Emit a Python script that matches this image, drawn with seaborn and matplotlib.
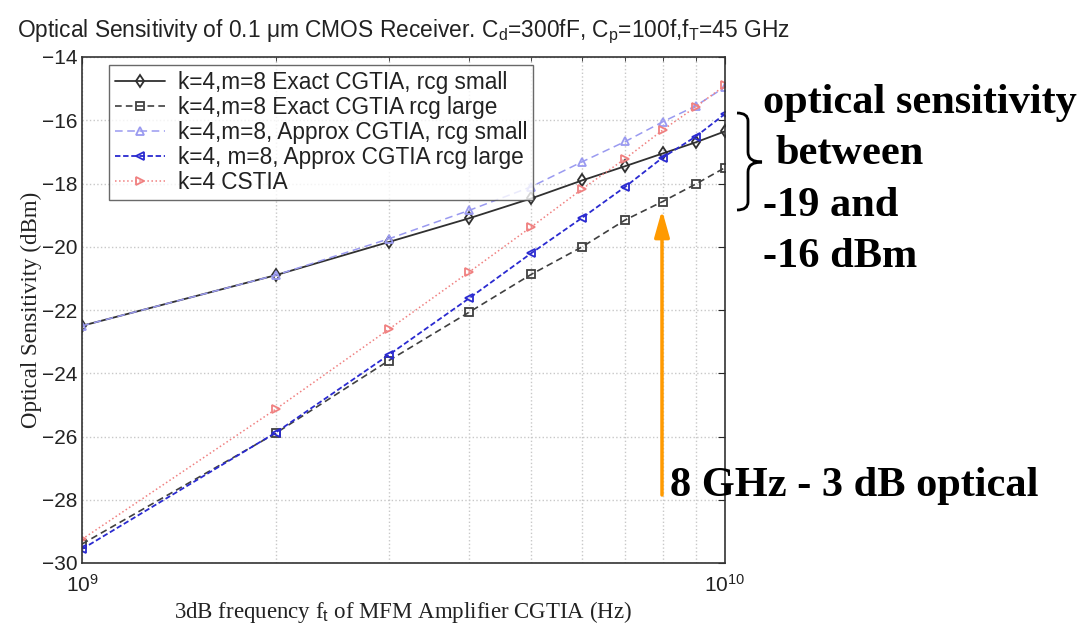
import matplotlib
matplotlib.use("Agg")
import matplotlib.pyplot as plt
from matplotlib.path import Path
from matplotlib.patches import PathPatch
import seaborn as sns
import numpy as np
import pandas as pd

# ---- data ----
freq_hz = [1e9, 2e9, 3e9, 4e9, 5e9, 6e9, 7e9, 8e9, 9e9, 1e10]
exact_small = [-22.5, -20.9, -19.85, -19.1, -18.47, -17.9, -17.45, -17.05, -16.7, -16.35]
exact_large = [-29.4, -25.9, -23.6, -22.07, -20.87, -20.0, -19.15, -18.57, -18.02, -17.5]
approx_small = [-22.5, -20.9, -19.75, -18.85, -18.1, -17.31, -16.67, -16.05, -15.55, -14.95]
approx_large = [-29.56, -25.88, -23.42, -21.63, -20.2, -19.08, -18.1, -17.18, -16.52, -15.8]
cstia = [-29.25, -25.14, -22.61, -20.8, -19.37, -18.17, -17.21, -16.31, -15.58, -14.9]

series_labels = [
    "k=4,m=8 Exact CGTIA, rcg small",
    "k=4,m=8 Exact CGTIA rcg large",
    "k=4,m=8, Approx CGTIA, rcg small",
    "k=4, m=8, Approx CGTIA rcg large",
    "k=4 CSTIA",
]
y_ticks = [-30, -28, -26, -24, -22, -20, -18, -16, -14]

title_text = (r"Optical Sensitivity of 0.1 $\mathrm{\mu}$m CMOS Receiver. "
              r"C$_\mathrm{d}$=300fF, C$_\mathrm{p}$=100f,f$_\mathrm{T}$=45 GHz")
xlabel_text = r"3dB frequency f$_\mathrm{t}$ of MFM Amplifier CGTIA (Hz)"
ylabel_text = "Optical Sensitivity (dBm)"
note_lines = ["optical sensitivity", "between", "-19 and", "-16 dBm"]
arrow_note = "8 GHz - 3 dB optical"

# ---- style ----
sns.set_style("white")
plt.rcParams["font.family"] = ["Liberation Sans", "DejaVu Sans"]
plt.rcParams["mathtext.fontset"] = "custom"
plt.rcParams["mathtext.rm"] = "Liberation Sans"
plt.rcParams["mathtext.it"] = "Liberation Sans:italic"

W, H = 1084, 628
fig = plt.figure(figsize=(W / 100, H / 100), dpi=100)
x0, x1, ytop, ybot = 82, 725, 57, 563
ax = fig.add_axes([x0 / W, 1 - ybot / H, (x1 - x0) / W, (ybot - ytop) / H])

styles = [
    dict(color="#303030", linestyle="-", marker="d", lw=1.3),
    dict(color="#404040", linestyle=(0, (4, 2.5)), marker="s", lw=1.2),
    dict(color="#9a9af0", linestyle=(0, (5, 3)), marker="^", lw=1.1),
    dict(color="#2a2ad0", linestyle=(0, (3, 1.5)), marker="<", lw=1.3),
    dict(color="#f08080", linestyle=":", marker=">", lw=1.1),
]
all_series = [exact_small, exact_large, approx_small, approx_large, cstia]

ax.set_xscale("log")
for vals, lab, st in zip(all_series, series_labels, styles):
    df = pd.DataFrame({"f": freq_hz, "s": vals})
    sns.lineplot(data=df, x="f", y="s", ax=ax, label=lab, color=st["color"],
                 linestyle=st["linestyle"], marker=st["marker"], lw=st["lw"],
                 markersize=6, markerfacecolor="none", markeredgecolor=st["color"],
                 markeredgewidth=1.3)

ax.set_xlim(1e9, 1e10)
ax.set_ylim(-30, -14)
ax.set_yticks(y_ticks)
ax.set_yticklabels([f"\u2212{abs(t)}" for t in y_ticks])
ax.set_xticks([1e9, 1e10])
ax.set_xticklabels([r"$10^{9}$", r"$10^{10}$"])
ax.tick_params(axis="both", which="both", direction="in", labelsize=15, length=5,
               top=True, right=True, labelcolor="#222222")
ax.tick_params(axis="x", which="minor", length=3)
ax.tick_params(axis="x", which="major", pad=8)
ax.grid(True, which="both", axis="x", linestyle=":", color="#c8c8c8", lw=1)
ax.grid(True, which="major", axis="y", linestyle=":", color="#c8c8c8", lw=1)
for sp in ax.spines.values():
    sp.set_color("#333333")
    sp.set_linewidth(1.2)

ax.set_xlabel(xlabel_text, family="Liberation Serif", fontsize=16.5, labelpad=2,
              color="#222222")
ax.set_ylabel(ylabel_text, family="Liberation Serif", fontsize=16.5, labelpad=0,
              color="#222222")
ax.set_title(title_text, fontsize=16.4, pad=14, color="#222222")

leg = ax.legend(loc="upper left", bbox_to_anchor=(0.035, 0.993), fontsize=16.3,
                frameon=True, fancybox=False, edgecolor="#444444",
                handlelength=2.2, labelspacing=0.08, borderpad=0.28,
                handletextpad=0.55, borderaxespad=0.2)
leg.get_frame().set_linewidth(1.0)
for t in leg.get_texts():
    t.set_color("#222222")

# ---- annotations (figure pixels) ----
def fx(px):
    return px / W

def fy(py):
    return 1 - py / H

ys = [103, 154, 206, 257]
xs = [763, 776, 763, 763]
for t, xx, yy in zip(note_lines, xs, ys):
    fig.text(fx(xx), fy(yy), t, family="Liberation Serif", fontweight="bold",
             fontsize=30.5, va="center", ha="left", color="black")
fig.text(fx(670), fy(486), arrow_note, family="Liberation Serif", fontweight="bold",
         fontsize=30.5, va="center", ha="left", color="black")

# curly brace
bx0, bxs, bxt = 737, 748, 762
by0, bym, by1 = 113, 162, 210
verts = [
    (bx0, by0), (bxs, by0), (bxs, by0 + 8),
    (bxs, bym - 10), (bxs, bym), (bxt, bym),
    (bxs, bym), (bxs, bym + 10),
    (bxs, by1 - 8), (bxs, by1), (bx0, by1),
]
codes = [Path.MOVETO, Path.CURVE3, Path.CURVE3,
         Path.LINETO, Path.CURVE3, Path.CURVE3,
         Path.CURVE3, Path.CURVE3,
         Path.LINETO, Path.CURVE3, Path.CURVE3]
vf = [(fx(a), fy(b)) for a, b in verts]
brace = PathPatch(Path(vf, codes), transform=fig.transFigure, fill=False,
                  lw=2.0, color="black")
fig.add_artist(brace)

# orange arrow
ax.annotate("", xy=(fx(662), fy(210)), xytext=(fx(662), fy(495)),
            xycoords="figure fraction", textcoords="figure fraction",
            arrowprops=dict(arrowstyle="-|>,head_length=1.6,head_width=0.45",
                            color="#ff9a00", lw=2.5, shrinkA=0, shrinkB=0),
            annotation_clip=False)

fig.savefig("out.png", dpi=100, facecolor="white")
